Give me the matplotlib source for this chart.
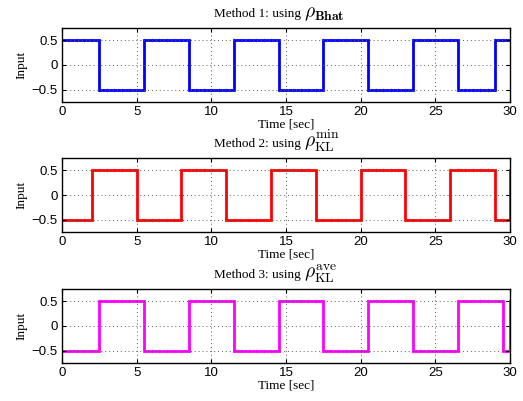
import numpy as np
import matplotlib
matplotlib.use("Agg")
import matplotlib.pyplot as plt

plt.rcParams['mathtext.fontset'] = 'cm'

# switching times [sec] and the level held in each segment
edges_1 = [0, 2.5, 5.5, 8.5, 11.5, 14.5, 17.5, 20.5, 23.5, 26.5, 29, 30]
levels_1 = [0.5, -0.5, 0.5, -0.5, 0.5, -0.5, 0.5, -0.5, 0.5, -0.5, 0.5]

edges_2 = [0, 2, 5, 8, 11, 14, 17, 20, 23, 26, 29, 30]
levels_2 = [-0.5, 0.5, -0.5, 0.5, -0.5, 0.5, -0.5, 0.5, -0.5, 0.5, -0.5]

edges_3 = [0, 2.5, 5.5, 8.5, 11.5, 14.5, 17.5, 20.5, 23.5, 26.5, 29.5, 30]
levels_3 = [-0.5, 0.5, -0.5, 0.5, -0.5, 0.5, -0.5, 0.5, -0.5, 0.5, -0.5]

titles = [('Method 1: using ', r'$\rho_{\mathbf{Bhat}}$'),
          ('Method 2: using ', r'$\rho_{\mathrm{KL}}^{\mathrm{min}}$'),
          ('Method 3: using ', r'$\rho_{\mathrm{KL}}^{\mathrm{ave}}$')]
colors = ['#0000ff', '#ff0000', '#ff00ff']
sample_dt = 0.5

fig = plt.figure(figsize=(5.23, 4.01), dpi=100)
tops = [28, 158, 289]
h = 74
for i, (edges, levels) in enumerate([(edges_1, levels_1), (edges_2, levels_2), (edges_3, levels_3)]):
    ax = fig.add_axes([62 / 523, 1 - (tops[i] + h) / 401, 448 / 523, h / 401])
    ax.stairs(levels, edges, color=colors[i], lw=2, baseline=None)
    # sampled points (markers)
    ts = np.arange(0, 30 + 1e-9, sample_dt)
    idx = np.clip(np.searchsorted(edges, ts, side='right') - 1, 0, len(levels) - 1)
    vals = np.array(levels)[idx]
    ax.plot(ts, vals, ls='none', marker='|', ms=3, mew=0.6, color=colors[i], alpha=0.35)
    # final rise at right edge for methods 2 and 3
    if i > 0:
        ax.plot([30, 30], [levels[-1], -levels[-1]], color=colors[i], lw=2)
    ax.set_xlim(0, 30)
    ax.set_ylim(-0.75, 0.75)
    ax.set_xticks([0, 5, 10, 15, 20, 25, 30])
    ax.set_yticks([-0.5, 0, 0.5])
    ax.set_yticklabels(['\u22120.5', '0', '0.5'])
    ax.grid(True, ls=(0, (1, 3)), color='0.35', lw=0.7)
    ax.tick_params(direction='in', top=True, right=True, labelsize=9.5, length=3, pad=3)
    for lab in ax.get_xticklabels() + ax.get_yticklabels():
        lab.set_fontfamily('Liberation Sans')
    for s in ax.spines.values():
        s.set_linewidth(1.0)
    # title: plain text part plus a larger math symbol
    x_split = 304 / 523
    y_t = 1 - (tops[i] - 11) / 401
    fig.text(x_split, y_t, titles[i][0], ha='right', va='baseline',
             fontsize=9.5, family='Liberation Serif')
    fig.text(x_split, y_t, titles[i][1], ha='left', va='baseline', fontsize=14)
    ax.set_xlabel('Time [sec]', fontsize=9.5, family='Liberation Serif', labelpad=0)
    ax.set_ylabel('Input', fontsize=9.5, family='Liberation Serif', labelpad=3)

plt.savefig('out.png', dpi=100)
